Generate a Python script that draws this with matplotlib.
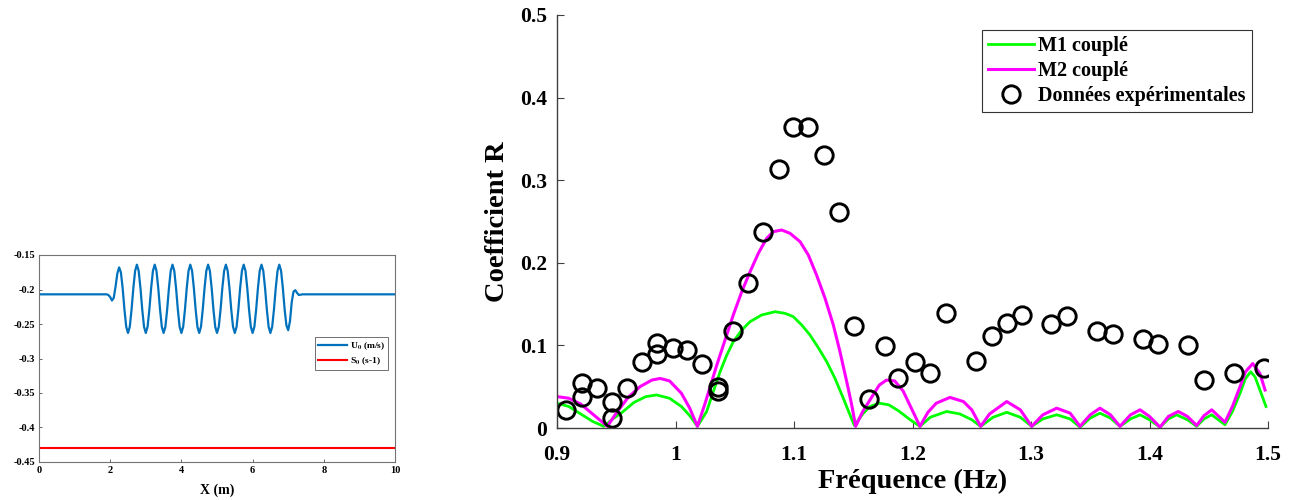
import numpy as np
import matplotlib
matplotlib.use("Agg")
import matplotlib.pyplot as plt

plt.rcParams['font.family'] = 'serif'
plt.rcParams['font.serif'] = ['Liberation Serif', 'DejaVu Serif']
plt.rcParams['font.weight'] = 'bold'
plt.rcParams['mathtext.fontset'] = 'stix'
plt.rcParams['mathtext.default'] = 'bf'

# ---- left panel : initial profiles ----
x_u0 = [0.00, 1.90, 1.95, 2.00, 2.05, 2.10, 2.15, 2.20,
        2.25, 2.30, 2.35, 2.40, 2.45, 2.50, 2.55, 2.60, 2.65, 2.70,
        2.75, 2.80, 2.85, 2.90, 2.95, 3.00, 3.05, 3.10, 3.15, 3.20,
        3.25, 3.30, 3.35, 3.40, 3.45, 3.50, 3.55, 3.60, 3.65, 3.70,
        3.75, 3.80, 3.85, 3.90, 3.95, 4.00, 4.05, 4.10, 4.15, 4.20,
        4.25, 4.30, 4.35, 4.40, 4.45, 4.50, 4.55, 4.60, 4.65, 4.70,
        4.75, 4.80, 4.85, 4.90, 4.95, 5.00, 5.05, 5.10, 5.15, 5.20,
        5.25, 5.30, 5.35, 5.40, 5.45, 5.50, 5.55, 5.60, 5.65, 5.70,
        5.75, 5.80, 5.85, 5.90, 5.95, 6.00, 6.05, 6.10, 6.15, 6.20,
        6.25, 6.30, 6.35, 6.40, 6.45, 6.50, 6.55, 6.60, 6.65, 6.70,
        6.75, 6.80, 6.85, 6.90, 6.95, 7.00, 7.05, 7.10, 7.15, 7.20, 7.25, 7.30, 7.40,
        10.00]
u0 = [-0.207, -0.207, -0.208, -0.211, -0.216, -0.212, -0.196, -0.177,
      -0.168, -0.175, -0.198, -0.229, -0.254, -0.263, -0.254, -0.229, -0.198, -0.173,
      -0.164, -0.173, -0.198, -0.229, -0.254, -0.263, -0.254, -0.229, -0.198, -0.173,
      -0.164, -0.173, -0.198, -0.229, -0.254, -0.263, -0.254, -0.229, -0.198, -0.173,
      -0.164, -0.173, -0.198, -0.229, -0.254, -0.263, -0.254, -0.229, -0.198, -0.173,
      -0.164, -0.173, -0.198, -0.229, -0.254, -0.263, -0.254, -0.229, -0.198, -0.173,
      -0.164, -0.173, -0.198, -0.229, -0.254, -0.263, -0.254, -0.229, -0.198, -0.173,
      -0.164, -0.173, -0.198, -0.229, -0.254, -0.263, -0.254, -0.229, -0.198, -0.173,
      -0.164, -0.173, -0.198, -0.229, -0.254, -0.263, -0.254, -0.229, -0.198, -0.173,
      -0.164, -0.173, -0.198, -0.229, -0.254, -0.263, -0.254, -0.229, -0.198, -0.173,
      -0.164, -0.173, -0.198, -0.229, -0.252, -0.259, -0.246, -0.218, -0.203, -0.201, -0.205, -0.208, -0.207,
      -0.207]
x_s0 = [0.0, 10.0]
s0 = [-0.429, -0.429]
left_xticks = [0, 2, 4, 6, 8, 10]
left_yticks = [-0.45, -0.4, -0.35, -0.3, -0.25, -0.2, -0.15]
left_ylabels = ['-0.45', '-0.4', '-0.35', '-0.3', '-0.25', '-0.2', '-0.15']

# ---- right panel : reflection coefficient ----
f_m1 = [0.900, 0.910, 0.920, 0.930, 0.9395, 0.948, 0.955, 0.965, 0.975, 0.984, 0.995,
        1.005, 1.012, 1.0185, 1.0263, 1.0319, 1.0376, 1.0432, 1.0488, 1.0559, 1.0629,
        1.0727, 1.084, 1.0924, 1.0994, 1.1065, 1.1135, 1.1205, 1.1276, 1.1346, 1.1416,
        1.1473, 1.151, 1.158, 1.164, 1.172, 1.180, 1.188, 1.198, 1.2063,
        1.215, 1.2288, 1.240, 1.250, 1.2575, 1.268, 1.2795, 1.291, 1.3006, 1.310, 1.3217,
        1.333, 1.3414, 1.350, 1.3582, 1.367, 1.3751, 1.384, 1.392, 1.400, 1.4089, 1.416,
        1.4229, 1.432, 1.4398, 1.446, 1.4525, 1.4637, 1.470, 1.4764, 1.481, 1.4854, 1.489,
        1.4932, 1.4983]
r_m1 = [0.030, 0.026, 0.017, 0.008, 0.002, 0.012, 0.019, 0.031, 0.038, 0.040, 0.036,
        0.026, 0.015, 0.002, 0.020, 0.044, 0.068, 0.088, 0.1045, 0.1186, 0.1287,
        0.1368, 0.1408, 0.1388, 0.1348, 0.1247, 0.1126, 0.0972, 0.0803, 0.060, 0.036,
        0.0157, 0.003, 0.017, 0.026, 0.030, 0.028, 0.021, 0.010, 0.002,
        0.013, 0.020, 0.017, 0.010, 0.002, 0.013, 0.019, 0.013, 0.002, 0.011, 0.016,
        0.011, 0.001, 0.012, 0.018, 0.012, 0.002, 0.011, 0.016, 0.010, 0.001, 0.011,
        0.016, 0.010, 0.002, 0.011, 0.016, 0.004, 0.020, 0.042, 0.060, 0.068, 0.062,
        0.046, 0.026]

f_m2 = [0.900, 0.910, 0.920, 0.930, 0.9425, 0.950, 0.960, 0.970, 0.980, 0.987, 0.995,
        1.005, 1.012, 1.0185, 1.025, 1.0348, 1.0418, 1.0488, 1.0559, 1.0629, 1.0699,
        1.077, 1.0826, 1.0896, 1.0966, 1.1051, 1.1121, 1.1191, 1.1262, 1.1332, 1.1388,
        1.1445, 1.1487, 1.152, 1.158, 1.165, 1.172, 1.178,
        1.185, 1.192, 1.199, 1.2063, 1.213, 1.220, 1.2316, 1.243, 1.250, 1.2575, 1.265,
        1.2795, 1.291, 1.3006, 1.310, 1.3217, 1.333, 1.3414, 1.350, 1.3582, 1.367, 1.3751,
        1.384, 1.392, 1.400, 1.4089, 1.416, 1.4243, 1.432, 1.4398, 1.446, 1.4525, 1.4637,
        1.470, 1.4764, 1.481, 1.4871, 1.4932, 1.4975]
r_m2 = [0.038, 0.036, 0.029, 0.017, 0.002, 0.018, 0.037, 0.050, 0.058, 0.060, 0.057,
        0.042, 0.024, 0.002, 0.030, 0.076, 0.1065, 0.137, 0.165, 0.189, 0.2115,
        0.2297, 0.2377, 0.2397, 0.2357, 0.2256, 0.2094, 0.185, 0.157, 0.1247, 0.0924,
        0.056, 0.028, 0.002, 0.020, 0.036, 0.052, 0.058,
        0.057, 0.045, 0.024, 0.002, 0.019, 0.030, 0.037, 0.032, 0.022, 0.002, 0.017,
        0.032, 0.022, 0.002, 0.016, 0.024, 0.018, 0.002, 0.016, 0.024, 0.016, 0.002,
        0.016, 0.022, 0.014, 0.001, 0.014, 0.020, 0.014, 0.003, 0.015, 0.022, 0.007,
        0.026, 0.050, 0.068, 0.078, 0.066, 0.046]

f_exp = [0.9076, 0.9208, 0.9208, 0.9335, 0.9461, 0.9461, 0.9588, 0.9715, 0.9847, 0.9847,
         0.9976, 1.0100, 1.0221, 1.0361, 1.0361, 1.0488, 1.0615, 1.0736, 1.0873, 1.0994,
         1.1121, 1.1256, 1.1382, 1.1506, 1.1636, 1.1765, 1.1880, 1.2021, 1.2148, 1.2280,
         1.2533, 1.2668, 1.2795, 1.2922, 1.3169, 1.3301, 1.3555, 1.3689, 1.3943, 1.4074,
         1.4328, 1.4460, 1.4713, 1.4969]
r_exp = [0.022, 0.037, 0.054, 0.048, 0.032, 0.012, 0.048, 0.080, 0.103, 0.090,
         0.097, 0.094, 0.078, 0.050, 0.045, 0.117, 0.175, 0.237, 0.313, 0.364,
         0.365, 0.331, 0.262, 0.124, 0.035, 0.099, 0.060, 0.080, 0.067, 0.139,
         0.081, 0.111, 0.127, 0.137, 0.126, 0.136, 0.118, 0.114, 0.108, 0.102,
         0.101, 0.058, 0.066, 0.073]
right_xticks = [0.9, 1.0, 1.1, 1.2, 1.3, 1.4, 1.5]
right_xlabels = ['0.9', '1', '1.1', '1.2', '1.3', '1.4', '1.5']
right_yticks = [0, 0.1, 0.2, 0.3, 0.4, 0.5]
right_ylabels = ['0', '0.1', '0.2', '0.3', '0.4', '0.5']

W, H = 1298, 500
fig = plt.figure(figsize=(W / 100, H / 100), dpi=100)

# left axes
ax1 = fig.add_axes([39 / W, 38 / H, 356 / W, 207 / H])
ax1.plot(x_u0, u0, color='#0072BD', lw=1.6, label='U$_0$ (m/s)')
ax1.plot(x_s0, s0, color='#FF0000', lw=1.5, label='S$_0$ (s-1)')
ax1.set_xlim(0, 10)
ax1.set_ylim(-0.45, -0.15)
ax1.set_xticks(left_xticks)
ax1.set_xticklabels([str(t) for t in left_xticks])
ax1.set_yticks(left_yticks)
ax1.set_yticklabels(left_ylabels)
ax1.tick_params(direction='in', length=2.5, width=0.6, labelsize=7.5, pad=3, color='0.3')
for s in ax1.spines.values():
    s.set_color('0.45')
    s.set_linewidth(0.8)
ax1.set_xlabel('X (m)', fontsize=10, fontweight='bold')
ax1.xaxis.set_label_coords(0.5, -0.105)
leg1 = ax1.legend(loc='upper right', bbox_to_anchor=(0.981, 0.604), borderaxespad=0,
                  fontsize=6.8, handlelength=3.0, handletextpad=0.3, labelspacing=0.35,
                  fancybox=False, framealpha=1, borderpad=0.35)
leg1.get_frame().set_edgecolor('0.35')
leg1.get_frame().set_linewidth(0.6)

# right axes
ax2 = fig.add_axes([557 / W, 72 / H, 711 / W, 413 / H])
ax2.plot(f_m1, r_m1, color='#00FF00', lw=2.0, label='M1 couplé')
ax2.plot(f_m2, r_m2, color='#FF00FF', lw=2.2, label='M2 couplé')
ax2.plot(f_exp, r_exp, 'o', mfc='none', mec='black', ms=12.5, mew=2.1,
         label='Données expérimentales')
ax2.set_xlim(0.9, 1.5)
ax2.set_ylim(0, 0.5)
ax2.set_xticks(right_xticks)
ax2.set_xticklabels(right_xlabels)
ax2.set_yticks(right_yticks)
ax2.set_yticklabels(right_ylabels)
ax2.spines['top'].set_visible(False)
ax2.spines['right'].set_visible(False)
for s in ('left', 'bottom'):
    ax2.spines[s].set_color('0.25')
    ax2.spines[s].set_linewidth(1.0)
ax2.tick_params(direction='in', length=5, width=0.8, labelsize=15.5, color='0.25')
ax2.tick_params(axis='x', pad=12)
ax2.tick_params(axis='y', pad=7)
ax2.set_ylabel('Coefficient R', fontsize=20.5, fontweight='bold')
ax2.yaxis.set_label_coords(-0.066, 0.5)
ax2.set_xlabel('Fréquence (Hz)', fontsize=20.5, fontweight='bold')
ax2.xaxis.set_label_coords(0.5, -0.1)
leg2 = ax2.legend(loc='upper right', bbox_to_anchor=(0.9775, 0.9637), borderaxespad=0,
                  fontsize=14.5, handlelength=2.3, handletextpad=0.2, labelspacing=0.25,
                  fancybox=False, framealpha=1, borderpad=0.3)
leg2.get_frame().set_edgecolor('0.2')
leg2.get_frame().set_linewidth(0.8)

fig.savefig('out.png', dpi=100)
